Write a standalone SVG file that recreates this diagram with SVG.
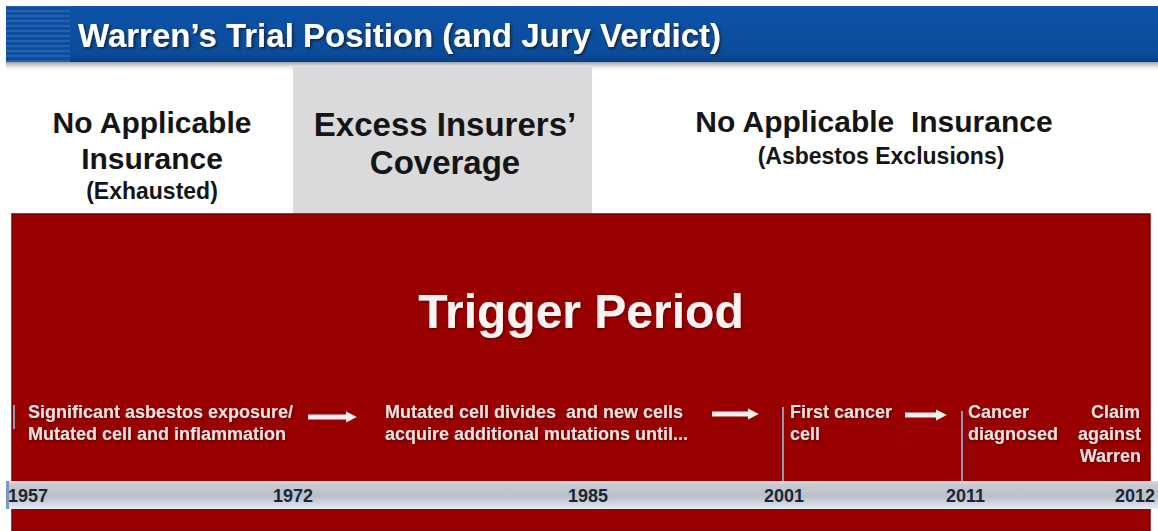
<svg xmlns="http://www.w3.org/2000/svg" width="1158" height="531" viewBox="0 0 1158 531">
  <defs>
    <linearGradient id="bandBlue" x1="0" y1="0" x2="0" y2="1">
      <stop offset="0" stop-color="#0d52a6"/>
      <stop offset="0.85" stop-color="#0a4c9c"/>
      <stop offset="1" stop-color="#083f84"/>
    </linearGradient>
    <linearGradient id="bandShadow" x1="0" y1="0" x2="0" y2="1">
      <stop offset="0" stop-color="#9aa0a8"/>
      <stop offset="1" stop-color="#ffffff" stop-opacity="0"/>
    </linearGradient>
    <linearGradient id="timeBar" x1="0" y1="0" x2="0" y2="1">
      <stop offset="0" stop-color="#f0d8dc"/>
      <stop offset="0.12" stop-color="#c6cbd3"/>
      <stop offset="0.55" stop-color="#bac0ca"/>
      <stop offset="0.85" stop-color="#d6dce4"/>
      <stop offset="1" stop-color="#e8eef4"/>
    </linearGradient>
    <pattern id="stripes" width="8" height="5" patternUnits="userSpaceOnUse">
      <rect width="8" height="5" fill="#0c4e9f"/>
      <rect width="8" height="2" fill="#2560ac"/>
    </pattern>
    <filter id="glow" x="-5%" y="-20%" width="110%" height="140%">
      <feDropShadow dx="1.5" dy="1.5" stdDeviation="1" flood-color="#1a1a1a" flood-opacity="0.8"/>
    </filter>
    <filter id="softShadow" x="-5%" y="-20%" width="110%" height="140%">
      <feDropShadow dx="1" dy="1" stdDeviation="0.8" flood-color="#3a0000" flood-opacity="0.7"/>
    </filter>
    <marker id="arrowHead" viewBox="0 0 10 10" refX="2" refY="5" markerWidth="2.2" markerHeight="2.4" orient="auto" markerUnits="strokeWidth">
      <path d="M0,0 L10,5 L0,10 Z" fill="#f6eeee"/>
    </marker>
    <style>
      .title { font-family: "Liberation Sans", Arial, sans-serif; font-weight: bold; font-size: 33px; fill: #ffffff; }
      .colHead { font-family: "Liberation Sans", Arial, sans-serif; font-weight: bold; fill: #151515; text-anchor: middle; }
      .big { font-size: 30px; }
      .bigger { font-size: 33px; }
      .sub { font-size: 23px; }
      .trigger { font-family: "Liberation Sans", Arial, sans-serif; font-weight: bold; font-size: 48px; fill: #fbf2f2; text-anchor: middle; }
      .event { font-family: "Liberation Sans", Arial, sans-serif; font-weight: bold; font-size: 18px; fill: #f1e2e2; }
      .year { font-family: "Liberation Sans", Arial, sans-serif; font-weight: bold; font-size: 18px; fill: #1c2536; }
      .marker { stroke: #8e9bb0; stroke-width: 2; }
      .flow { stroke: #f6eeee; stroke-width: 5; fill: none; marker-end: url(#arrowHead); }
    </style>
  </defs>

  <rect width="1158" height="531" fill="#ffffff"/>

  <!-- Title band -->
  <g id="title-band">
    <rect x="6" y="6" width="1152" height="56" fill="url(#bandBlue)"/>
    <rect x="6" y="6" width="64" height="56" fill="url(#stripes)"/>
    <rect x="6" y="62" width="1152" height="10" fill="url(#bandShadow)"/>
    <text class="title" x="78" y="47" filter="url(#glow)">Warren’s Trial Position (and Jury Verdict)</text>
  </g>

  <!-- Coverage columns -->
  <g id="col-exhausted">
    <text class="colHead big" x="152" y="133">No Applicable</text>
    <text class="colHead big" x="152" y="169">Insurance</text>
    <text class="colHead sub" x="152" y="199">(Exhausted)</text>
  </g>
  <g id="col-excess">
    <rect x="293" y="67" width="299" height="148" fill="#dadadd"/>
    <text class="colHead bigger" x="445" y="136">Excess Insurers’</text>
    <text class="colHead bigger" x="445" y="174">Coverage</text>
  </g>
  <g id="col-exclusions">
    <text class="colHead big" x="874" y="132" xml:space="preserve">No Applicable  Insurance</text>
    <text class="colHead sub" x="881" y="164">(Asbestos Exclusions)</text>
  </g>

  <!-- Trigger period block -->
  <g id="trigger-period">
    <rect x="12" y="214" width="1138" height="317" fill="#990000" stroke="#7a0000" stroke-width="1.5"/>
    <text class="trigger" x="581" y="328" filter="url(#softShadow)">Trigger Period</text>
  </g>

  <!-- Timeline bar -->
  <g id="timeline">
    <rect x="6" y="481" width="1152" height="28" fill="url(#timeBar)"/>
    <rect x="6" y="481" width="3" height="28" fill="#7f98c0"/>
    <text class="year" x="8" y="502">1957</text>
    <text class="year" x="273" y="502">1972</text>
    <text class="year" x="568" y="502">1985</text>
    <text class="year" x="764" y="502">2001</text>
    <text class="year" x="946" y="502">2011</text>
    <text class="year" x="1115" y="502">2012</text>
  </g>

  <!-- Events -->
  <g id="event-exposure">
    <line class="marker" x1="14" y1="405" x2="14" y2="429"/>
    <text class="event" x="28" y="418" filter="url(#softShadow)">Significant asbestos exposure/</text>
    <text class="event" x="28" y="440" filter="url(#softShadow)">Mutated cell and inflammation</text>
  </g>
  <g id="event-mutation">
    <text class="event" x="385" y="418" filter="url(#softShadow)" xml:space="preserve">Mutated cell divides  and new cells</text>
    <text class="event" x="385" y="440" filter="url(#softShadow)">acquire additional mutations until...</text>
  </g>
  <g id="event-first-cell">
    <line class="marker" x1="783" y1="407" x2="783" y2="481"/>
    <text class="event" x="790" y="418" filter="url(#softShadow)">First cancer</text>
    <text class="event" x="790" y="440" filter="url(#softShadow)">cell</text>
  </g>
  <g id="event-diagnosis">
    <line class="marker" x1="962" y1="411" x2="962" y2="481"/>
    <text class="event" x="968" y="418" filter="url(#softShadow)">Cancer</text>
    <text class="event" x="968" y="440" filter="url(#softShadow)">diagnosed</text>
  </g>
  <g id="event-claim">
    <text class="event" x="1140" y="418" text-anchor="end" filter="url(#softShadow)">Claim</text>
    <text class="event" x="1141" y="440" text-anchor="end" filter="url(#softShadow)">against</text>
    <text class="event" x="1141" y="462" text-anchor="end" filter="url(#softShadow)">Warren</text>
  </g>

  <!-- Connectors -->
  <g id="connectors">
    <line class="flow" x1="308" y1="417" x2="348" y2="417"/>
    <line class="flow" x1="712" y1="414" x2="750" y2="414"/>
    <line class="flow" x1="905" y1="415" x2="938" y2="415"/>
  </g>
</svg>
